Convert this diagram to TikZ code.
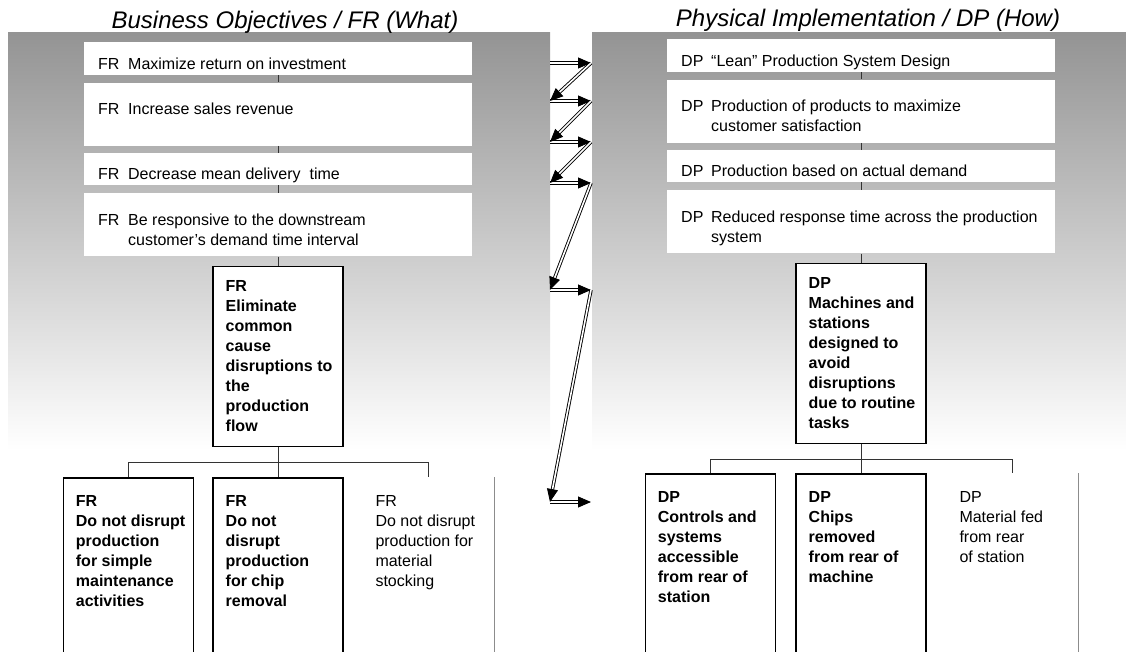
\documentclass[tikz,border=0pt]{standalone}
\usepackage{fontspec}
\setmainfont{Liberation Sans}
\usepackage{tikz}
\usetikzlibrary{positioning,arrows.meta,calc}

\newcommand{\boxfont}{\fontsize{16}{20}\selectfont}
\newcommand{\tagged}[2]{\makebox[30pt][l]{#1}\parbox[t]{330pt}{\raggedright #2}}

\begin{document}
\begin{tikzpicture}[
    x=1pt, y=-1pt,
    heading/.style={font=\fontsize{24}{28}\selectfont\itshape},
    goal/.style={rectangle, fill=white, text width=360pt, inner xsep=14pt, inner ysep=2pt, align=flush left, font=\boxfont, minimum height=33pt, text height=21pt, text depth=0pt},
    goaltall/.style={goal, minimum height=63pt, text height=24pt, text depth=23pt},
    mainbox/.style={rectangle, draw, line width=1.8pt, fill=white, text width=118pt, inner xsep=6pt, inner ysep=2pt, align=flush left, execute at begin node={\leftskip=6.5pt}, font=\boxfont\bfseries, minimum height=180pt},
    subbox/.style={mainbox, minimum height=0pt, inner ysep=16pt, text height=12pt, text depth=135pt},
    plainsub/.style={subbox, draw=none, font=\boxfont},
    wire/.style={draw=black!80, line width=0.8pt},
    sideline/.style={draw=black!45, line width=0.8pt},
    link/.style={double, double distance=1.6pt, line width=0.9pt, -{Triangle[length=13pt,width=11pt]}}
]
\useasboundingbox (0,0) rectangle (1126,652);

% background panels
\shade[top color=black!42, middle color=black!25, bottom color=white] (8,33) rectangle (550,450);
\shade[top color=black!42, middle color=black!25, bottom color=white] (592,33) rectangle (1126,450);

% Titles
\node[heading] (whattitle) at (285,22) {Business Objectives / FR (What)};
\node[heading] (howtitle) at (868,20) {Physical Implementation / DP (How)};

% FR column
\node[goal, anchor=north west] (fr1) at (84,42) {\tagged{FR}{Maximize return on investment}};
\node[goaltall, below=7pt of fr1] (fr2) {\tagged{FR}{Increase sales revenue}};
\node[goal, minimum height=32pt, below=7pt of fr2] (fr3) {\tagged{FR}{Decrease mean delivery\ \ time}};
\node[goaltall, below=8pt of fr3] (fr4) {\tagged{FR}{Be responsive to the downstream\\customer's demand time interval}};
\node[mainbox, below=9pt of fr4] (frmain) {FR\\Eliminate\\common\\cause\\disruptions to\\the\\production\\flow};
\node[subbox, text depth=150pt, below=30pt of frmain] (frsub2) {FR\\Do not\\disrupt\\production\\for chip\\removal};
\node[subbox, text depth=150pt, left=18pt of frsub2] (frsub1) {FR\\Do not disrupt\\production\\for simple\\maintenance\\activities};
\node[plainsub, text depth=150pt, right=18pt of frsub2] (frsub3) {FR\\Do not disrupt\\production for\\material\\stocking};

% DP column
\node[goal, anchor=north west] (dp1) at (667,39) {\tagged{DP}{“Lean” Production System Design}};
\node[goaltall, below=7pt of dp1] (dp2) {\tagged{DP}{Production of products to maximize\\customer satisfaction}};
\node[goal, minimum height=32pt, below=7pt of dp2] (dp3) {\tagged{DP}{Production based on actual demand}};
\node[goaltall, below=8pt of dp3] (dp4) {\tagged{DP}{Reduced response time across the production\\system}};
\node[mainbox, below=9pt of dp4] (dpmain) {DP\\Machines and\\stations\\designed to\\avoid\\disruptions\\due to routine\\tasks};
\node[subbox, below=29pt of dpmain] (dpsub2) {DP\\Chips\\removed\\from rear of\\machine};
\node[subbox, left=19pt of dpsub2] (dpsub1) {DP\\Controls and\\systems\\accessible\\from rear of\\station};
\node[plainsub, right=19pt of dpsub2] (dpsub3) {DP\\Material fed\\from rear\\of station};

% Tree lines
\draw[wire] (fr1) -- (fr2);
\draw[wire] (fr2) -- (fr3);
\draw[wire] (fr3) -- (fr4);
\draw[wire] (fr4) -- (frmain);
\coordinate (frtee) at ($(frmain.south)!0.5!(frsub2.north)$);
\draw[wire] (frmain) -- (frsub2);
\draw[wire] (frtee) -| (frsub1);
\draw[wire] (frtee) -| (frsub3);
\draw[sideline] (frsub3.north east) -- (frsub3.south east);

\draw[wire] (dp1) -- (dp2);
\draw[wire] (dp2) -- (dp3);
\draw[wire] (dp3) -- (dp4);
\draw[wire] (dp4) -- (dpmain);
\coordinate (dptee) at ($(dpmain.south)!0.5!(dpsub2.north)$);
\draw[wire] (dpmain) -- (dpsub2);
\draw[wire] (dptee) -| (dpsub1);
\draw[wire] (dptee) -| (dpsub3);
\draw[sideline] ([xshift=2pt]dpsub3.south west) -- (dpsub3.south east) -- (dpsub3.north east);

% Zig-zag mapping arrows
\foreach \y [count=\i] in {63,101,142,183,290,502} {
  \coordinate (from\i) at (550,\y);
  \coordinate (to\i) at (591,\y);
}
\foreach \i in {1,...,6}
  \draw[link] (from\i) -- (to\i);
\foreach \i [evaluate=\i as \j using int(\i+1)] in {1,...,5}
  \draw[link] (to\i) -- (from\j);

\end{tikzpicture}
\end{document}
